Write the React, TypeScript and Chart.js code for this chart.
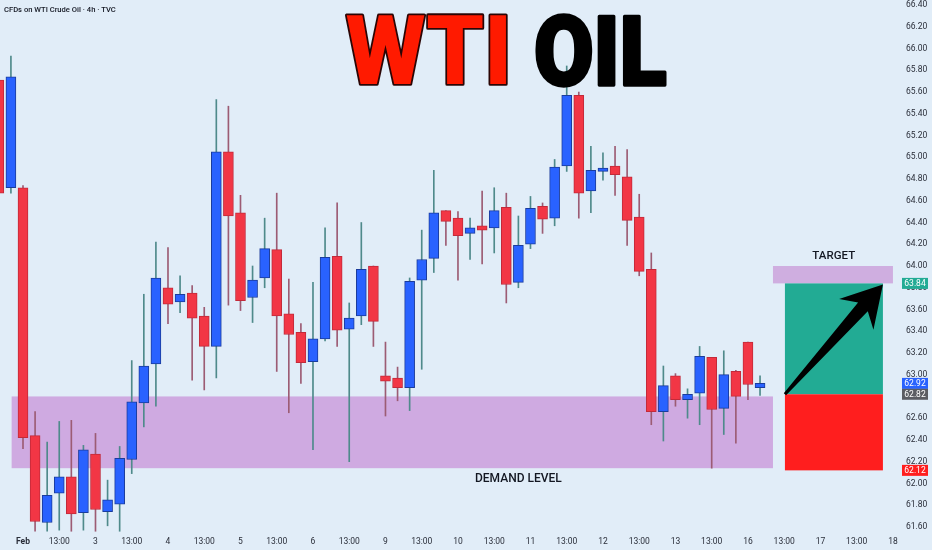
import { useEffect, useRef } from "react";
import { Chart, registerables } from "chart.js";

Chart.register(...registerables);

// ---- data (4h candles, index 0 = Feb 2 01:00) ----
const candleIndex = [-2, -1, 0, 1, 2, 3, 4, 5, 6, 7, 8, 9, 10, 11, 12, 13, 14, 15, 16, 17, 18, 19, 20, 21, 22, 23, 24, 25, 26, 27, 28, 29, 30, 31, 32, 33, 34, 35, 36, 37, 38, 39, 40, 41, 42, 43, 44, 45, 46, 47, 48, 49, 50, 51, 52, 53, 54, 55, 56, 57, 58, 59, 60, 61];
const opens = [65.71, 64.72, 64.72, 62.44, 61.64, 61.91, 62.06, 61.73, 62.27, 61.74, 61.81, 62.22, 62.74, 63.10, 63.80, 63.67, 63.75, 63.54, 63.26, 65.05, 64.49, 63.71, 63.89, 64.15, 63.56, 63.39, 63.12, 63.33, 64.09, 63.42, 63.54, 64.00, 62.99, 62.97, 62.88, 63.87, 64.07, 64.51, 64.44, 64.30, 64.37, 64.35, 64.54, 63.85, 64.20, 64.55, 64.44, 64.92, 65.57, 64.69, 64.87, 64.92, 64.82, 64.45, 63.97, 62.66, 62.99, 62.77, 62.83, 63.16, 62.69, 63.03, 63.30, 62.88];
const highs = [65.75, 65.93, 64.74, 62.66, 62.38, 62.57, 62.58, 62.35, 62.46, 62.03, 62.34, 63.13, 63.74, 64.22, 64.17, 63.91, 63.82, 63.62, 65.53, 65.47, 64.65, 64.00, 64.44, 64.67, 63.88, 63.47, 63.85, 64.35, 64.58, 63.66, 64.40, 64.00, 63.30, 63.07, 63.89, 64.33, 64.88, 64.51, 64.50, 64.44, 64.69, 64.72, 64.67, 64.46, 64.64, 64.58, 64.98, 65.84, 65.60, 65.10, 65.04, 65.10, 65.07, 64.66, 64.12, 63.08, 63.01, 62.87, 63.26, 63.16, 63.22, 63.04, 63.30, 62.99];
const lows = [64.65, 64.67, 62.32, 61.56, 61.56, 61.57, 61.56, 61.57, 61.56, 61.61, 61.56, 62.09, 62.52, 62.71, 63.47, 63.57, 62.95, 62.86, 62.97, 63.64, 63.59, 63.48, 63.80, 63.03, 62.65, 62.92, 62.31, 63.31, 63.26, 62.20, 63.46, 63.26, 62.62, 62.76, 62.67, 63.05, 63.94, 64.19, 63.87, 64.06, 64.02, 64.12, 63.66, 63.80, 64.16, 64.30, 64.37, 64.87, 64.44, 64.49, 64.79, 64.65, 64.19, 63.91, 62.54, 62.39, 62.71, 62.60, 62.54, 62.14, 62.45, 62.37, 62.77, 62.81];
const closes = [64.67, 65.74, 62.42, 61.65, 61.89, 62.06, 61.72, 62.31, 61.76, 61.85, 62.23, 62.75, 63.08, 63.89, 63.65, 63.74, 63.52, 63.26, 65.05, 64.46, 63.68, 63.87, 64.16, 63.54, 63.37, 63.11, 63.33, 64.08, 63.41, 63.52, 63.97, 63.49, 62.94, 62.88, 63.86, 64.06, 64.49, 64.41, 64.28, 64.35, 64.33, 64.51, 63.83, 64.19, 64.53, 64.43, 64.91, 65.57, 64.67, 64.88, 64.90, 64.84, 64.42, 63.95, 62.66, 62.90, 62.77, 62.82, 63.17, 62.68, 63.00, 62.80, 62.91, 62.92];

const timeLabels = ["Feb", "13:00", "3", "13:00", "4", "13:00", "5", "13:00", "6", "13:00", "9", "13:00", "10", "13:00", "11", "13:00", "12", "13:00", "13", "13:00", "16", "13:00", "17", "13:00", "18"];
const barsPerLabel = 3;
const priceTicks = [61.6, 61.8, 62.0, 62.2, 62.4, 62.6, 62.8, 63.0, 63.2, 63.4, 63.6, 63.8, 64.0, 64.2, 64.4, 64.6, 64.8, 65.0, 65.2, 65.4, 65.6, 65.8, 66.0, 66.2, 66.4];

// annotation levels
const demandZone = [62.14, 62.8];
const demandSpan = [-0.94, 62.07];
const targetZone = [63.84, 64.0];
const targetSpan = [62.07, 72.0];
const projectionSpan = [63.06, 71.17];
const entryPrice = 62.82;
const targetPrice = 63.84;
const stopPrice = 62.12;
const lastPrice = 62.92;
const demandLabelAt = [41, 62.04];
const targetLabelAt = [67.1, 64.09];

const BG = "#e1edf8";
const UP = "#2962ff";
const DOWN = "#f23645";

function drawWord(ctx: CanvasRenderingContext2D, text: string, left: number, right: number, top: number, baseline: number, fill: string, stroke: string, lw: number) {
  ctx.save();
  ctx.font = "900 100px Roboto, 'Liberation Sans', Arial, sans-serif";
  ctx.textBaseline = "alphabetic";
  ctx.textAlign = "left";
  const m = ctx.measureText(text);
  const inkW = m.actualBoundingBoxLeft + m.actualBoundingBoxRight;
  const inkH = m.actualBoundingBoxAscent;
  const sx = (right - left - lw) / inkW;
  const sy = (baseline - top - lw) / inkH;
  ctx.translate(left + lw / 2 + m.actualBoundingBoxLeft * sx, baseline - lw / 2);
  ctx.scale(sx, sy);
  ctx.lineJoin = "round";
  ctx.lineWidth = lw / sx;
  ctx.strokeStyle = stroke;
  ctx.fillStyle = fill;
  ctx.strokeText(text, 0, 0);
  ctx.fillText(text, 0, 0);
  ctx.restore();
}

function priceTag(ctx: CanvasRenderingContext2D, y: number, text: string, color: string) {
  ctx.save();
  ctx.fillStyle = color;
  ctx.fillRect(902, y - 5.5, 26, 11);
  ctx.fillStyle = "#ffffff";
  ctx.font = "8.5px Roboto, sans-serif";
  ctx.textAlign = "center";
  ctx.textBaseline = "middle";
  ctx.fillText(text, 915, y + 0.5);
  ctx.restore();
}

const overlayPlugin = {
  id: "overlay",
  beforeDraw(chart: any) {
    const ctx = chart.ctx;
    ctx.save();
    ctx.fillStyle = BG;
    ctx.fillRect(0, 0, chart.width, chart.height);
    ctx.restore();
  },
  beforeDatasetsDraw(chart: any) {
    const { ctx, chartArea, scales } = chart;
    const x = scales.x;
    const y = scales.y;
    ctx.save();
    ctx.beginPath();
    ctx.rect(chartArea.left, chartArea.top, chartArea.right - chartArea.left, chartArea.bottom - chartArea.top);
    ctx.clip();
    const box = (x0: number, x1: number, v0: number, v1: number, color: string) => {
      const a = x.getPixelForValue(x0);
      const b = x.getPixelForValue(x1);
      const t = y.getPixelForValue(v1);
      const u = y.getPixelForValue(v0);
      ctx.fillStyle = color;
      ctx.fillRect(a, t, b - a, u - t);
    };
    box(demandSpan[0], demandSpan[1], demandZone[0], demandZone[1], "#cfaae1");
    box(targetSpan[0], targetSpan[1], targetZone[0], targetZone[1], "#cfaee0");
    box(projectionSpan[0], projectionSpan[1], entryPrice, targetPrice, "#22ab94");
    box(projectionSpan[0], projectionSpan[1], stopPrice, entryPrice, "#ff1e1e");
    ctx.restore();
  },
  afterDraw(chart: any) {
    const { ctx, scales } = chart;
    const x = scales.x;
    const y = scales.y;

    // arrow
    const tx = x.getPixelForValue(projectionSpan[0]);
    const ty = y.getPixelForValue(entryPrice);
    const px = x.getPixelForValue(projectionSpan[1]);
    const py = y.getPixelForValue(targetPrice - 0.01);
    const L = Math.hypot(px - tx, py - ty);
    const ang = Math.atan2(py - ty, px - tx);
    ctx.save();
    ctx.translate(tx, ty);
    ctx.rotate(ang);
    ctx.beginPath();
    ctx.moveTo(0, -1.5);
    ctx.lineTo(L - 30, -6.5);
    ctx.lineTo(L - 40, -23);
    ctx.lineTo(L, 0);
    ctx.lineTo(L - 40, 23);
    ctx.lineTo(L - 30, 6.5);
    ctx.lineTo(0, 1.5);
    ctx.closePath();
    ctx.fillStyle = "#000000";
    ctx.fill();
    ctx.restore();

    // labels
    ctx.save();
    ctx.fillStyle = "#131722";
    ctx.textAlign = "center";
    ctx.textBaseline = "middle";
    ctx.font = "500 12px Roboto, sans-serif";
    ctx.fillText("DEMAND LEVEL", x.getPixelForValue(demandLabelAt[0]), y.getPixelForValue(demandLabelAt[1]));
    ctx.font = "500 11.5px Roboto, sans-serif";
    ctx.fillText("TARGET", x.getPixelForValue(targetLabelAt[0]), y.getPixelForValue(targetLabelAt[1]));
    ctx.restore();

    // header
    ctx.save();
    ctx.fillStyle = "#131722";
    ctx.textAlign = "left";
    ctx.textBaseline = "middle";
    ctx.font = "500 7.6px Roboto, sans-serif";
    ctx.fillText("CFDs on WTI Crude Oil · 4h · TVC", 4, 10);
    ctx.restore();

    // title
    drawWord(ctx, "WTI", 345, 508, 13, 86, "#ff1a00", "#2a0505", 3.5);
    drawWord(ctx, "OIL", 535, 667, 13, 86, "#000000", "#000000", 3);

    // price tags
    priceTag(ctx, y.getPixelForValue(targetPrice), targetPrice.toFixed(2), "#22ab94");
    priceTag(ctx, y.getPixelForValue(lastPrice), lastPrice.toFixed(2), UP);
    priceTag(ctx, y.getPixelForValue(entryPrice), entryPrice.toFixed(2), "#5b5d63");
    priceTag(ctx, y.getPixelForValue(stopPrice), stopPrice.toFixed(2), "#ff1e1e");
  },
};

export default function App() {
  const ref = useRef<HTMLCanvasElement | null>(null);

  useEffect(() => {
    if (!ref.current) return;
    const isUp = candleIndex.map((_, k) => closes[k] >= opens[k]);
    const chart = new Chart(ref.current, {
      type: "bar",
      data: {
        datasets: [
          {
            label: "wicks",
            data: candleIndex.map((i, k) => ({ x: i, y: [lows[k], highs[k]] })) as any,
            backgroundColor: isUp.map((u) => (u ? "#4f8a8b" : "#9c5c74")),
            borderWidth: 0,
            barThickness: 1,
            grouped: false,
            order: 2,
          } as any,
          {
            label: "bodies",
            data: candleIndex.map((i, k) => ({ x: i, y: [opens[k], closes[k]] })) as any,
            backgroundColor: isUp.map((u) => (u ? UP : DOWN)),
            borderColor: isUp.map((u) => (u ? "#1b3c9c" : "#c22a3a")),
            borderWidth: 1,
            borderSkipped: false,
            barThickness: 10,
            grouped: false,
            order: 1,
          } as any,
        ],
      },
      options: {
        responsive: false,
        animation: false,
        layout: { padding: 0 },
        plugins: { legend: { display: false }, tooltip: { enabled: false }, title: { display: false } },
        scales: {
          x: {
            type: "linear",
            offset: false,
            min: -1.9035,
            max: 72.17,
            grid: { display: false, drawTicks: false },
            border: { display: false },
            afterBuildTicks: (s: any) => {
              s.ticks = timeLabels.map((_, k) => ({ value: k * barsPerLabel }));
            },
            afterFit: (s: any) => {
              s.height = 18;
              s.paddingLeft = 0;
              s.paddingRight = 0;
            },
            ticks: {
              autoSkip: false,
              maxRotation: 0,
              padding: 5,
              color: "#2a2e39",
              font: (c: any) => ({ family: "Roboto, sans-serif", size: 8.5, weight: c.tick && c.tick.value === 0 ? "bold" : "normal" }),
              callback: (v: any) => timeLabels[Math.round(Number(v) / barsPerLabel)] ?? "",
            },
          },
          y: {
            type: "linear",
            position: "right",
            min: 61.553,
            max: 66.447,
            grid: { display: false, drawTicks: false },
            border: { display: false },
            afterBuildTicks: (s: any) => {
              s.ticks = priceTicks.map((v) => ({ value: v }));
            },
            afterFit: (s: any) => {
              s.width = 37;
              s.paddingTop = 0;
              s.paddingBottom = 0;
            },
            ticks: {
              autoSkip: false,
              crossAlign: "center",
              padding: 11,
              color: "#2a2e39",
              font: { family: "Roboto, sans-serif", size: 8.5 },
              callback: (v: any) => Number(v).toFixed(2),
            },
          },
        },
      } as any,
      plugins: [overlayPlugin],
    });
    return () => chart.destroy();
  }, []);

  return (
    <div style={{ position: "fixed", left: 0, top: 0, width: 932, height: 550, background: BG }}>
      <canvas ref={ref} width={932} height={550} style={{ display: "block" }} />
    </div>
  );
}
